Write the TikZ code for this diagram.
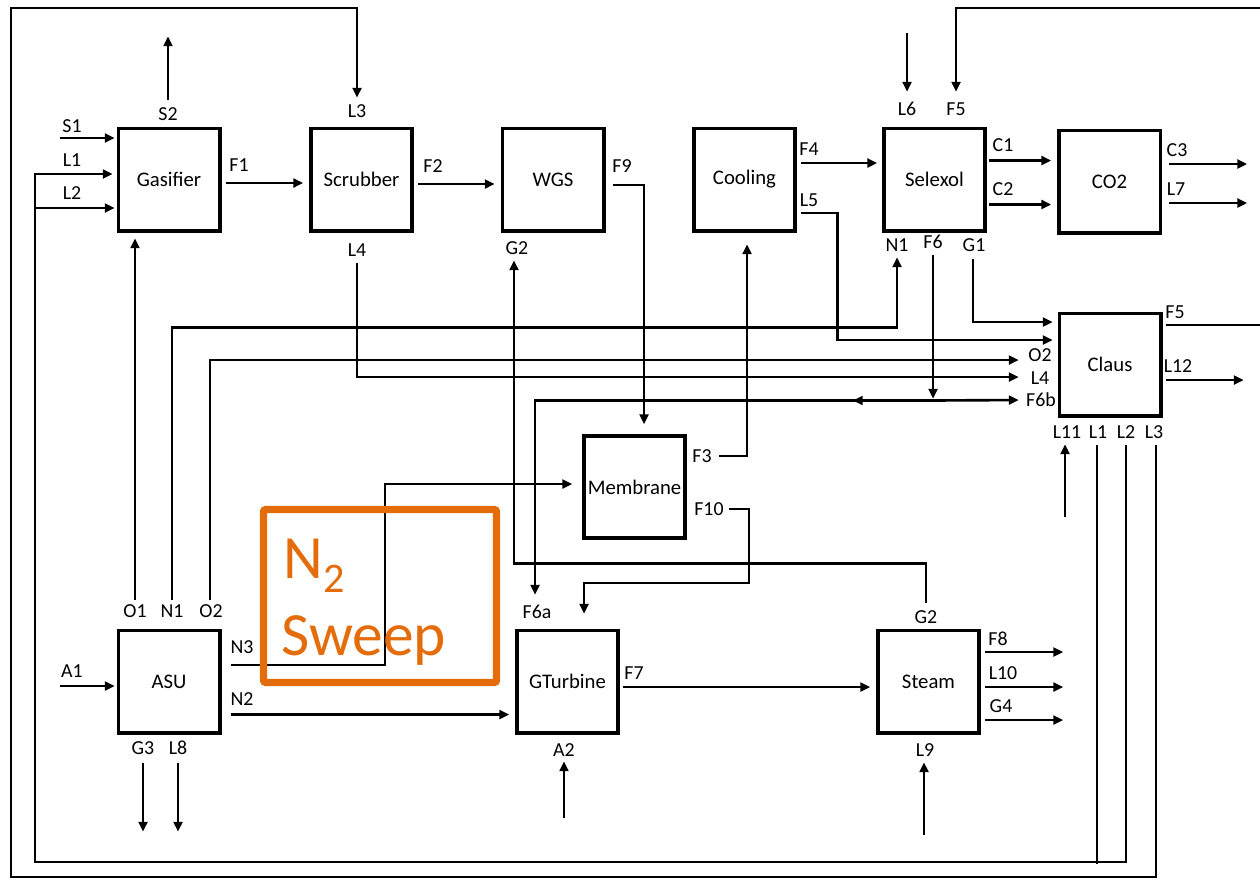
\documentclass[tikz,border=0pt]{standalone}
\usepackage{fontspec}
\setmainfont{Carlito}
\usetikzlibrary{arrows.meta,calc}
\definecolor{sweeporange}{RGB}{228,108,10}
\tikzset{
  unit/.style={draw, line width=2pt, minimum width=2.03cm, minimum height=2.05cm,
    inner sep=0pt, font=\fontsize{11.8}{13}\selectfont},
  port/.style={inner sep=0pt, font=\fontsize{11.3}{12}\selectfont},
  pipe/.style={line width=1.5pt},
  flow/.style={pipe, -{Triangle[length=5.6pt,width=5pt]}, shorten >=1pt},
  sweep/.style={inner sep=0pt, text=sweeporange, font=\fontsize{35}{40}\selectfont}
}

\begin{document}
\begin{tikzpicture}[x=0.02cm,y=-0.02cm]
\useasboundingbox (0,0) rectangle (1260,879);

% process units
\node[unit] (gas) at (169,179.5) {Gasifier};
\node[unit] (scrub) at (361.5,179.5) {Scrubber};
\node[unit] (wgs) at (553,179.5) {WGS};
\node[unit] (cool) at (744.5,179.5) {Cooling};
\node[unit] (selex) at (934.5,179.5) {Selexol};
\node[unit] (co2) at (1109.5,181.5) {CO2};
\node[unit] (claus) at (1110,364.5) {Claus};
\node[unit] (memb) at (634.5,487) {Membrane};
\node[unit] (asu) at (169,681.5) {ASU};
\node[unit] (gturb) at (567.5,681.5) {GTurbine};
\node[unit] (steam) at (928.5,681.5) {Steam};

% top row
\coordinate (s1src) at (60,138);
\draw[flow] (s1src) -- (s1src -| gas.west);
\draw[flow] ($(gas.north)+(-1,-27)$) -- ++(0,-65);
\draw[flow] ($(gas.east)+(4,3.5)$) -- ($(scrub.west)+(-4,3.5)$);
\draw[flow] ($(scrub.east)+(4,4.5)$) -- ($(wgs.west)+(-4,4.5)$);
\draw[flow] ($(wgs.east)+(7,5.5)$) -| ($(memb.north)+(9.5,-8)$);
\draw[flow] ($(cool.east)+(4,-16.5)$) -- ($(selex.west)+(-3,-16.5)$);
\draw[flow] ($(cool.east)+(4,33.5)$) -| ($(claus.west)+(-220,-24.5)$) -- ($(claus.west)+(-3,-24.5)$);
\coordinate (l6src) at (907,33);
\draw[flow] (l6src) -- ($(selex.north)+(-27.5,-33)$);
\coordinate (f5top) at (1260,8);
\draw[flow] (f5top) -| ($(selex.north)+(21.5,-33)$);
\draw[flow] ($(selex.east)+(2,-19)$) -- ($(co2.west)+(-4,-21)$);
\draw[flow] ($(selex.east)+(2,25)$) -- ($(co2.west)+(-4,23)$);
\draw[flow] ($(co2.east)+(7,-17.5)$) -- ++(80,0);
\draw[flow] ($(co2.east)+(7,21.5)$) -- ++(80,0);

% Claus
\coordinate (f5out) at (1260,325);
\draw[pipe] ($(claus.east)+(3,-39.5)$) -- (f5out);
\draw[flow] ($(claus.east)+(3,15.5)$) -- ++(80,0);
\coordinate (l11src) at (1065,517);
\draw[flow] (l11src) -- ($(claus.south)+(-45,25)$);
\draw[pipe] ($(claus.south)+(-13,27)$) -- ++(0,419);
\draw[flow] ($(claus.south)+(16,27)$) |- (35,862) |- ($(gas.west)+(-2,-5.5)$);
\coordinate (l2tap) at (35,208);
\draw[flow] (l2tap) -- (l2tap -| gas.west);
\draw[flow] ($(claus.south)+(46,27)$) |- (11,877) |- (357,8) -- ($(scrub.north)+(-4.5,-27)$);

% Selexol bottom streams
\draw[flow] ($(asu.north)+(3,-29)$) |- ($(selex.south)+(-37.5,95)$) -- ($(selex.south)+(-37.5,23)$);
\coordinate (f6j) at ($(selex.south)+(-1.5,168)$);
\draw[flow] ($(selex.south)+(-1.5,22)$) -- (f6j);
\draw[flow] (f6j) -- ($(claus.west)+(-37,35.5)$);
\draw[flow] (f6j) -- ++(-82,0);
\draw[flow] (f6j) -| ($(gturb.north)+(-32.5,-32)$);
\draw[flow] ($(selex.south)+(38.5,26)$) |- ($(claus.west)+(-3,-42.5)$);
\draw[flow] ($(asu.north)+(41,-29)$) |- ($(claus.west)+(-37,-4.5)$);
\draw[flow] ($(scrub.south)+(-4.5,30)$) |- ($(claus.west)+(-37,12.5)$);

% membrane
\draw[flow] ($(asu.east)+(9,-16.5)$) -| ($(memb.west)+(-197,-3)$) -- ($(memb.west)+(-8,-3)$);
\draw[flow] ($(memb.east)+(32,-31)$) -| ($(cool.south)+(2.5,10)$);
\draw[flow] ($(memb.east)+(42,22)$) -| ($(memb.east)+(62,96)$) -| ($(gturb.north)+(16.5,-13)$);
\draw[flow] ($(steam.north)+(-2.5,-26)$) |- ($(wgs.south)+(-39,331)$) -- ($(wgs.south)+(-39,26)$);
\draw[flow] ($(asu.north)+(-34,-29)$) -- ($(gas.south)+(-34,4)$);

% bottom row
\coordinate (a1src) at (60,686);
\draw[flow] (a1src) -- (a1src -| asu.west);
\draw[flow] ($(asu.south)+(-26,28)$) -- ++(0,71);
\draw[flow] ($(asu.south)+(9,28)$) -- ++(0,71);
\draw[flow] ($(asu.east)+(9,33)$) -- ($(gturb.west)+(-4,33)$);
\coordinate (a2src) at (564,818);
\draw[flow] (a2src) -- ($(gturb.south)+(-3.5,25)$);
\draw[flow] ($(gturb.east)+(3,5.5)$) -- ($(steam.west)+(-4,5.5)$);
\draw[flow] ($(steam.east)+(4,-29.5)$) -- ++(80,0);
\draw[flow] ($(steam.east)+(4,5.5)$) -- ++(80,0);
\draw[flow] ($(steam.east)+(4,38.5)$) -- ++(80,0);
\coordinate (l9src) at (924,835);
\draw[flow] (l9src) -- ($(steam.south)+(-4.5,26)$);

% stream labels
\foreach \t/\x/\y [count=\i] in {S1/72/126, L1/72/160, L2/72/193, S2/168/114,
  F1/239/165, L3/357/111, L4/357/250, F2/433/166, F9/622/166, G2/517/248,
  F4/809/149, L5/809/200, L6/907/109, F5/956/109, C1/1003/145, C2/1003/189,
  N1/897/245, F6/933/242, G1/974/245, C3/1177/150, L7/1176/189,
  F5/1175/312, L12/1178/366, O2/1040/355, L4/1040/378, F6b/1041/400,
  L11/1067/432, L1/1098/432, L2/1126/432, L3/1154/432, F3/702/456, F10/709/509,
  O1/135/611, N1/172/611, O2/211/611, N3/242/647, A1/72/671, N2/242/699,
  F6a/537/612, G3/143/748, L8/178/748, A2/564/750, F7/634/673, G2/926/617,
  F8/998/639, L10/1003/673, G4/1001/706, L9/925/750}
  \node[port] (lab\i) at (\x,\y) {\t};

% N2 sweep highlight
\draw[sweeporange, line width=4.25pt, rounded corners=1.5pt] (263.5,509.5) rectangle (496.5,682.5);
\node[sweep, anchor=base west] (sweepN) at (283,578) {N\raisebox{-8.5pt}{\fontsize{24}{24}\selectfont 2}};
\node[sweep, anchor=base west] (sweepT) at (281,655) {Sweep};
\end{tikzpicture}
\end{document}
